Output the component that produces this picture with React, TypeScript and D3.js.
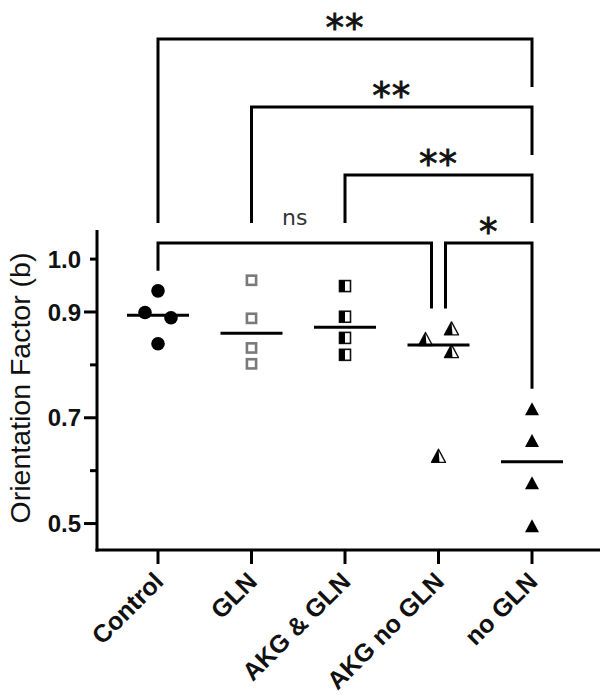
import React from "react";
import * as d3 from "d3";

// ---- data ----
const categories = ["Control", "GLN", "AKG & GLN", "AKG no GLN", "no GLN"];
const controlValues = [0.94, 0.899, 0.889, 0.84];
const glnValues = [0.96, 0.888, 0.832, 0.802];
const akgGlnValues = [0.949, 0.891, 0.851, 0.819];
const akgNoGlnValues = [0.869, 0.849, 0.826, 0.628];
const noGlnValues = [0.717, 0.657, 0.577, 0.496];
const seriesValues = [controlValues, glnValues, akgGlnValues, akgNoGlnValues, noGlnValues];
const markerKinds = ["circle", "square", "halfSquare", "halfTriangle", "triangle"];

const majorTicks = [0.5, 0.7, 0.9];
const minorTicks = [0.6, 0.8, 1.0];
const labeledTicks = [0.5, 0.7, 0.9, 1.0];
const tickLabels = ["0.5", "0.7", "0.9", "1.0"];

const comparisonFrom = ["Control", "AKG no GLN", "AKG & GLN", "GLN", "Control"];
const comparisonTo = ["AKG no GLN", "no GLN", "no GLN", "no GLN", "no GLN"];
const comparisonLabel = ["ns", "*", "**", "**", "**"];

const yTitle = "Orientation Factor (b)";

// ---- layout ----
const W = 608;
const H = 700;
const axisX = 97;
const axisBottom = 550;
const axisTop = 230;
const FONT = "'Liberation Sans', Arial, sans-serif";
const SIGFONT = "'DejaVu Sans', Verdana, sans-serif";

const y = d3.scaleLinear().domain([0.45, 1.055]).range([axisBottom, axisTop]);
const x = d3.scalePoint<string>().domain(categories).range([158, 532]);

function dodge(values: number[], threshold: number, step: number): number[] {
  const idx = values.map((_, i) => i).sort((a, b) => values[a] - values[b]);
  const offs = values.map(() => 0);
  let cluster: number[] = [idx[0]];
  const flush = () => {
    if (cluster.length > 1) {
      cluster.forEach((k, j) => {
        offs[k] = j % 2 === 0 ? step : -step;
      });
    }
  };
  for (let i = 1; i < idx.length; i++) {
    const gap = Math.abs(y(values[idx[i]]) - y(values[idx[i - 1]]));
    if (gap < threshold) cluster.push(idx[i]);
    else {
      flush();
      cluster = [idx[i]];
    }
  }
  flush();
  return offs;
}

function Marker({ kind, cx, cy }: { kind: string; cx: number; cy: number }) {
  if (kind === "circle") return <circle cx={cx} cy={cy} r={6.8} fill="#000" />;
  if (kind === "square")
    return <rect x={cx - 4.6} y={cy - 4.6} width={9.2} height={9.2} fill="#fff" stroke="#7a7a7a" strokeWidth={2.6} />;
  if (kind === "halfSquare")
    return (
      <g>
        <rect x={cx - 5.5} y={cy - 5.5} width={11} height={11} fill="#fff" stroke="#111" strokeWidth={1.6} />
        <rect x={cx - 5.5} y={cy - 5.5} width={5.5} height={11} fill="#000" />
      </g>
    );
  const w = 14, h = 13;
  const tri = `M${cx},${cy - h / 2}L${cx + w / 2},${cy + h / 2}L${cx - w / 2},${cy + h / 2}Z`;
  if (kind === "triangle") return <path d={tri} fill="#000" />;
  const half = `M${cx},${cy - h / 2}L${cx + 1},${cy + h / 2}L${cx - w / 2},${cy + h / 2}Z`;
  return (
    <g>
      <path d={tri} fill="#fff" stroke="#111" strokeWidth={1.4} strokeLinejoin="round" />
      <path d={half} fill="#000" />
    </g>
  );
}

export default function App() {
  // bracket rows (greedy)
  const pos = (c: string) => categories.indexOf(c);
  const rows: number[] = [];
  comparisonFrom.forEach((f, i) => {
    const a = pos(f), b = pos(comparisonTo[i]);
    let r = 0;
    while (
      comparisonFrom.slice(0, i).some((f2, j) => {
        if (rows[j] !== r) return false;
        const a2 = pos(f2), b2 = pos(comparisonTo[j]);
        return Math.max(a, a2) < Math.min(b, b2);
      })
    )
      r++;
    rows.push(r);
  });
  const rowY = (r: number) => 243 - 68 * r;
  const shift = 7;
  const ends = comparisonFrom.map((f, i) => {
    const t = comparisonTo[i];
    let x1 = x(f)!, x2 = x(t)!;
    comparisonFrom.forEach((f2, j) => {
      if (j === i || rows[j] !== rows[i]) return;
      if (comparisonTo[j] === f) x1 += shift;
      if (f2 === t) x2 -= shift;
    });
    return [x1, x2];
  });
  const legEnd = (i: number, lx: number, cat: string) => {
    let obstacle = Infinity;
    comparisonFrom.forEach((_, j) => {
      if (rows[j] < rows[i] && ends[j][0] - 0.5 <= lx && lx <= ends[j][1] + 0.5) {
        obstacle = Math.min(obstacle, rowY(rows[j]));
      }
    });
    if (obstacle === Infinity) {
      const vals = seriesValues[pos(cat)];
      obstacle = y(d3.max(vals)!);
    }
    return obstacle - 20;
  };

  return (
    <svg width={W} height={H} style={{ position: "absolute", left: 0, top: 0, background: "#fff" }}>
      {/* significance brackets */}
      {comparisonFrom.map((f, i) => {
        const [x1, x2] = ends[i];
        const yy = rowY(rows[i]);
        const l1 = legEnd(i, x1, f);
        const l2 = legEnd(i, x2, comparisonTo[i]);
        const lbl = comparisonLabel[i];
        const isStar = lbl.includes("*");
        return (
          <g key={i}>
            <path
              d={`M${x1},${l1}L${x1},${yy}L${x2},${yy}L${x2},${l2}`}
              fill="none"
              stroke="#000"
              strokeWidth={3}
            />
            <text
              x={(x1 + x2) / 2}
              y={isStar ? yy + 2 : yy - 18}
              textAnchor="middle"
              fontFamily={SIGFONT}
              fontSize={isStar ? 37 : 22}
              letterSpacing={isStar ? 1 : 0}
              fill={isStar ? "#111" : "#333"}
              stroke={isStar ? "#111" : "none"}
              strokeWidth={isStar ? 0.8 : 0}
            >
              {lbl}
            </text>
          </g>
        );
      })}

      {/* axes */}
      <line x1={axisX} x2={axisX} y1={axisTop} y2={axisBottom + 1.5} stroke="#000" strokeWidth={3} />
      <line x1={axisX - 1.5} x2={600} y1={axisBottom} y2={axisBottom} stroke="#000" strokeWidth={3} />
      {majorTicks.map((t) => (
        <line key={"M" + t} x1={axisX - 13} x2={axisX} y1={y(t)} y2={y(t)} stroke="#000" strokeWidth={3} />
      ))}
      {minorTicks.map((t) => (
        <line key={"m" + t} x1={axisX - 7} x2={axisX} y1={y(t)} y2={y(t)} stroke="#000" strokeWidth={3} />
      ))}
      {labeledTicks.map((t, i) => (
        <text
          key={"l" + t}
          x={81}
          y={y(t)}
          dy="0.36em"
          textAnchor="end"
          fontFamily={FONT}
          fontWeight="bold"
          fontSize={24}
          fill="#111"
        >
          {tickLabels[i]}
        </text>
      ))}
      <text
        transform={`translate(30,388) rotate(-90)`}
        textAnchor="middle"
        fontFamily={FONT}
        fontSize={28.5}
        fill="#111"
      >
        {yTitle}
      </text>
      {categories.map((c) => (
        <g key={c}>
          <line x1={x(c)} x2={x(c)} y1={axisBottom} y2={axisBottom + 14} stroke="#000" strokeWidth={3} />
          <text
            transform={`translate(${x(c)! + 7},${axisBottom + 33}) rotate(-45)`}
            textAnchor="end"
            fontFamily={FONT}
            fontWeight="bold"
            fontSize={25}
            fill="#111"
          >
            {c}
          </text>
        </g>
      ))}

      {/* points and medians */}
      {categories.map((c, ci) => {
        const vals = seriesValues[ci];
        const offs = dodge(vals, 14, 13);
        const med = d3.median(vals)!;
        return (
          <g key={"s" + c}>
            {vals.map((v, k) => (
              <Marker key={k} kind={markerKinds[ci]} cx={x(c)! + offs[k]} cy={y(v)} />
            ))}
            <line x1={x(c)! - 31} x2={x(c)! + 31} y1={y(med)} y2={y(med)} stroke="#000" strokeWidth={3} />
          </g>
        );
      })}
    </svg>
  );
}
